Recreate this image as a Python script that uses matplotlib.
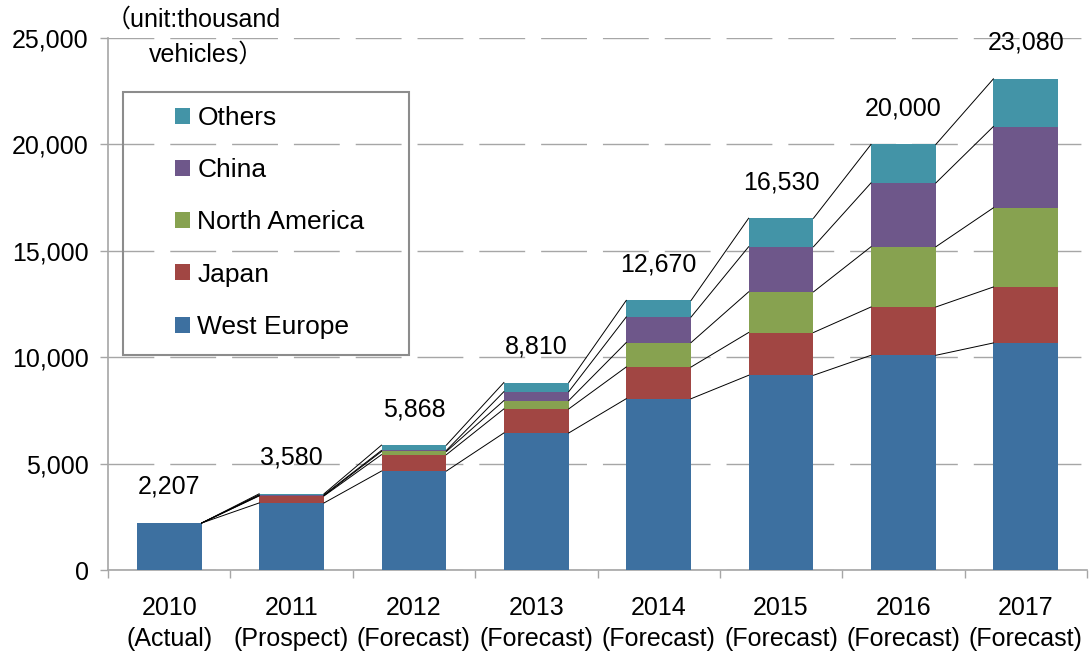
import matplotlib
matplotlib.use("Agg")
import matplotlib.pyplot as plt
import numpy as np
from matplotlib.patches import Patch, Rectangle

plt.rcParams['font.family'] = ['Liberation Sans', 'Noto Sans CJK JP', 'DejaVu Sans']

years = ["2010\n(Actual)", "2011\n(Prospect)", "2012\n(Forecast)", "2013\n(Forecast)",
         "2014\n(Forecast)", "2015\n(Forecast)", "2016\n(Forecast)", "2017\n(Forecast)"]
west_europe = [2207, 3150, 4650, 6440, 8050, 9150, 10090, 10670]
japan = [0, 330, 770, 1130, 1490, 2010, 2270, 2630]
north_america = [0, 20, 150, 390, 1150, 1910, 2830, 3720]
china = [0, 30, 50, 420, 1200, 2120, 3000, 3820]
others = [0, 50, 248, 430, 780, 1340, 1810, 2240]
totals = [2207, 3580, 5868, 8810, 12670, 16530, 20000, 23080]
total_labels = ["2,207", "3,580", "5,868", "8,810", "12,670", "16,530", "20,000", "23,080"]

series_names = ["West Europe", "Japan", "North America", "China", "Others"]
series_vals = [west_europe, japan, north_america, china, others]
colors = ["#3D70A0", "#A14643", "#87A250", "#6E578A", "#4394A7"]

W, H = 1089, 657
fig = plt.figure(figsize=(W / 100, H / 100), dpi=100)
ax = fig.add_axes([108 / W, 1 - 570 / H, (1087 - 108) / W, (570 - 38) / H])

x = np.arange(len(years))
bw = 0.53
bottom = np.zeros(len(years))
cums = []
for name, vals, c in zip(series_names, series_vals, colors):
    v = np.array(vals, dtype=float)
    ax.bar(x, v, bw, bottom=bottom, color=c, label=name, zorder=3, linewidth=0)
    bottom = bottom + v
    cums.append(bottom.copy())

# connector lines
for cum in cums:
    for i in range(len(years) - 1):
        ax.plot([x[i] + bw / 2, x[i + 1] - bw / 2], [cum[i], cum[i + 1]],
                color="black", lw=0.7, zorder=4)

for xi, t, lab in zip(x, totals, total_labels):
    ax.annotate(lab, (xi, t), xytext=(0, 26), textcoords="offset points",
                ha="center", va="center", fontsize=18, color="black")

ax.set_xlim(-0.5, 7.5)
ax.set_ylim(0, 25000)
ax.set_yticks(np.arange(0, 25001, 5000))
ax.set_yticklabels([f"{v:,}" for v in range(0, 25001, 5000)])
ax.yaxis.grid(True, color="#A6A6A6", lw=1.0, dashes=(33, 11.5), zorder=0)
ax.set_axisbelow(True)

ax.set_xticks(x)
ax.set_xticklabels(years, linespacing=1.36)
ax.set_xticks(np.arange(-0.5, 8.0, 1.0), minor=True)
ax.tick_params(axis="x", which="major", length=0, pad=19, labelsize=18)
ax.tick_params(axis="x", which="minor", length=6, color="#A6A6A6", width=1)
ax.tick_params(axis="y", length=6, color="#A6A6A6", width=1, pad=8, labelsize=18)

for s in ["top", "right"]:
    ax.spines[s].set_visible(False)
for s in ["left", "bottom"]:
    ax.spines[s].set_color("#A6A6A6")
    ax.spines[s].set_linewidth(1.2)

# legend
handles = [Patch(facecolor=c, edgecolor="none") for c in colors][::-1]
labels = series_names[::-1]
leg = fig.legend(handles, labels, loc="upper left",
                 bbox_to_anchor=(175 / W, 1 - 106 / H), bbox_transform=fig.transFigure,
                 frameon=False, fontsize=19, handlelength=0.55, handleheight=0.55,
                 handletextpad=0.3, labelspacing=1.07, borderpad=0, borderaxespad=0)
fig.patches.append(Rectangle((123 / W, 1 - 355 / H), (409 - 123) / W, (355 - 92) / H,
                             transform=fig.transFigure, fill=False,
                             edgecolor="#8C8C8C", lw=1.5, zorder=5))

fig.text(106 / W, 1 - 20 / H, "（unit:thousand", ha="left", va="center", fontsize=18)
fig.text(149 / W, 1 - 55 / H, "vehicles）", ha="left", va="center", fontsize=18)

fig.savefig("out.png", dpi=100)
